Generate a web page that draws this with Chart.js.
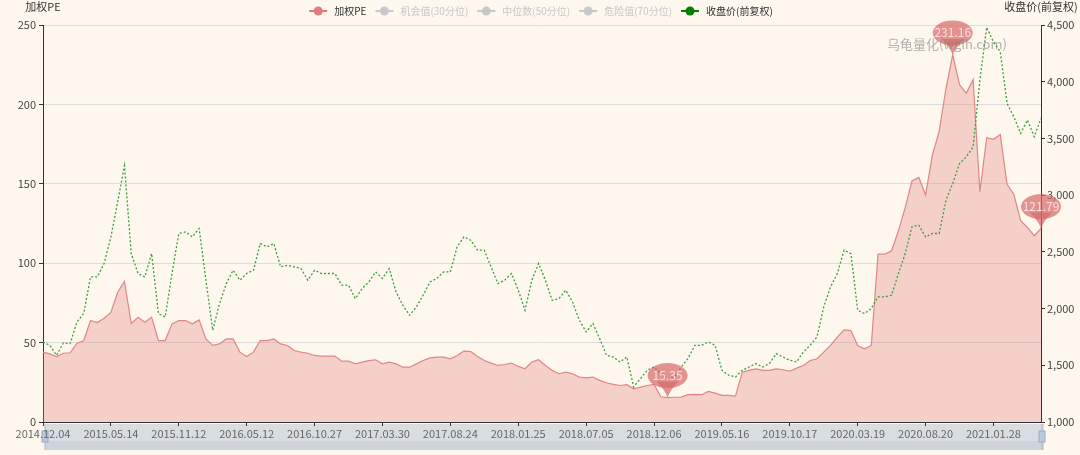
<!DOCTYPE html>
<html lang="zh-CN">
<head>
    <meta charset="UTF-8">
    <title>加权PE / 收盘价(前复权)</title>
    <script src="https://cdn.jsdelivr.net/npm/chart.js"></script>
    <style>
        body { margin: 0; background: #fdf7ed; }
        #wrap { width: 1080px; height: 455px; }
    </style>
</head>
<body>
    <div id="wrap"><canvas id="peChart" width="1080" height="455"></canvas></div>

    <script>
// one label every 10 points on the x axis
const POINTS_PER_TICK = 10;

const dateTicks = [
    '2014.12.04', '2015.05.14', '2015.11.12', '2016.05.12', '2016.10.27',
    '2017.03.30', '2017.08.24', '2018.01.25', '2018.07.05', '2018.12.06',
    '2019.05.16', '2019.10.17', '2020.03.19', '2020.08.20', '2021.01.28'
];

const peValues = [
    44.0, 42.9, 41.2, 43.3, 43.6, 49.6, 51.3, 63.9, 62.6, 65.3,
    69.0, 81.7, 88.5, 62.0, 66.0, 62.8, 66.0, 51.3, 51.3, 61.8,
    63.9, 63.9, 61.8, 64.3, 52.3, 48.2, 49.2, 52.3, 52.3, 44.0,
    41.2, 44.0, 51.3, 51.3, 52.3, 49.2, 48.2, 45.0, 44.0, 43.3,
    41.9, 41.5, 41.5, 41.5, 38.3, 38.3, 36.6, 37.7, 38.7, 39.2,
    36.6, 37.7, 36.6, 34.5, 34.5, 36.6, 38.7, 40.4, 40.8, 40.8,
    39.8, 41.9, 44.6, 44.4, 41.2, 38.7, 37.1, 35.6, 36.2, 37.1,
    35.0, 33.5, 37.7, 39.2, 35.6, 32.5, 30.4, 31.4, 30.4, 28.3,
    27.8, 28.3, 26.2, 24.7, 23.7, 23.0, 23.5, 20.9, 22.0, 23.0,
    23.7, 15.9, 15.35, 15.6, 15.7, 17.2, 17.4, 17.2, 19.3, 18.2,
    16.8, 16.8, 16.3, 31.4, 32.5, 33.5, 32.5, 32.5, 33.5, 32.9,
    32.0, 33.9, 35.6, 38.7, 39.8, 44.0, 48.2, 53.4, 58.0, 57.6,
    48.2, 46.1, 48.2, 105.7, 105.7, 107.8, 120.4, 135.0, 151.8, 154.0,
    143.0, 168.0, 183.0, 210.0, 231.16, 212.5, 207.0, 215.7, 145.0, 179.0,
    178.0, 181.0, 149.7, 143.4, 126.7, 122.5, 117.3, 121.79
];

const closeValues = [
    1706, 1676, 1588, 1697, 1691, 1882, 1956, 2279, 2279, 2397,
    2632, 2940, 3260, 2485, 2309, 2279, 2485, 1956, 1926, 2309,
    2662, 2676, 2632, 2706, 2250, 1809, 2044, 2220, 2338, 2250,
    2309, 2338, 2573, 2544, 2573, 2368, 2382, 2368, 2353, 2250,
    2338, 2309, 2309, 2309, 2206, 2206, 2088, 2176, 2235, 2323,
    2265, 2353, 2147, 2029, 1941, 2015, 2118, 2235, 2265, 2323,
    2323, 2544, 2632, 2603, 2515, 2515, 2368, 2220, 2250, 2309,
    2162, 1985, 2250, 2397, 2250, 2073, 2088, 2162, 2059, 1897,
    1794, 1868, 1735, 1588, 1573, 1529, 1573, 1309, 1382, 1456,
    1485, 1426, 1382, 1397, 1485, 1559, 1676, 1676, 1706, 1676,
    1456, 1412, 1397, 1456, 1485, 1515, 1485, 1515, 1603, 1573,
    1544, 1529, 1618, 1676, 1750, 2015, 2191, 2309, 2515, 2485,
    1985, 1956, 2000, 2103, 2103, 2118, 2309, 2485, 2721, 2735,
    2632, 2662, 2662, 2956, 3103, 3279, 3338, 3426, 4015, 4480,
    4350, 4264, 3809, 3691, 3544, 3662, 3515, 3676
];

const legendNames = ['加权PE', '机会值(30分位)', '中位数(50分位)', '危险值(70分位)', '收盘价(前复权)'];

const FONT = '"Noto Sans CJK SC", "Noto Sans", sans-serif';
Chart.defaults.font.family = FONT;
Chart.defaults.font.size = 11;

// max / min / latest PE get a pin
function markPoints() {
    let maxI = 0, minI = 0;
    peValues.forEach((v, i) => {
        if (v > peValues[maxI]) maxI = i;
        if (v < peValues[minI]) minI = i;
    });
    return [maxI, minI, peValues.length - 1];
}

const backdrop = {
    id: 'backdrop',
    beforeDraw(chart) {
        const ctx = chart.ctx;
        const area = chart.chartArea;
        ctx.save();
        ctx.fillStyle = '#fdf7ed';
        ctx.fillRect(0, 0, chart.width, chart.height);
        // data zoom slider under the dates
        ctx.fillStyle = '#d9dde2';
        ctx.fillRect(area.left + 2, 424, area.right - area.left + 1, 26);
        ctx.fillStyle = '#cfd4da';
        ctx.fillRect(area.left + 2, 441, area.right - area.left + 1, 9);
        [area.left + 2, area.right + 1].forEach(x => {
            ctx.fillStyle = '#a9b8cc';
            ctx.fillRect(x - 0.5, 424, 1, 26);
            ctx.fillStyle = '#bccae0';
            ctx.strokeStyle = '#9aaac2';
            ctx.fillRect(x - 3, 431, 6, 11);
            ctx.strokeRect(x - 3, 431, 6, 11);
        });
        ctx.restore();
    }
};

const decorations = {
    id: 'decorations',
    afterDraw(chart) {
        const ctx = chart.ctx;
        const area = chart.chartArea;
        const xs = chart.scales.x;
        const ys = chart.scales.y;
        ctx.save();

        // axis names
        ctx.font = '11px ' + FONT;
        ctx.fillStyle = '#333';
        ctx.textAlign = 'center';
        ctx.textBaseline = 'middle';
        ctx.fillText('加权PE', area.left, 7);
        ctx.fillText('收盘价(前复权)', area.right, 7);

        // legend
        ctx.font = '10px ' + FONT;
        const colors = ['#e07c7c', '#c8c8c8', '#c8c8c8', '#c8c8c8', '#008000'];
        const textColors = ['#333', '#c8c8c8', '#c8c8c8', '#c8c8c8', '#333'];
        const widths = legendNames.map(n => 18 + 7 + ctx.measureText(n).width);
        const total = widths.reduce((a, b) => a + b, 0) + 9 * (legendNames.length - 1);
        let lx = 541 - total / 2;
        legendNames.forEach((name, k) => {
            ctx.strokeStyle = colors[k];
            ctx.lineWidth = 2;
            ctx.beginPath();
            ctx.moveTo(lx, 11);
            ctx.lineTo(lx + 18, 11);
            ctx.stroke();
            ctx.fillStyle = colors[k];
            ctx.beginPath();
            ctx.arc(lx + 9, 11, 4.5, 0, Math.PI * 2);
            ctx.fill();
            ctx.fillStyle = textColors[k];
            ctx.textAlign = 'left';
            ctx.fillText(name, lx + 25, 11);
            lx += widths[k] + 9;
        });

        // pins
        ctx.textAlign = 'center';
        markPoints().forEach(i => {
            const px = xs.getPixelForValue(i);
            const py = ys.getPixelForValue(peValues[i]);
            ctx.fillStyle = 'rgba(214,104,104,0.7)';
            ctx.beginPath();
            ctx.ellipse(px, py - 22, 20, 12.5, 0, 0, Math.PI * 2);
            ctx.fill();
            ctx.beginPath();
            ctx.moveTo(px - 11, py - 16);
            ctx.quadraticCurveTo(px - 3, py - 8, px, py);
            ctx.quadraticCurveTo(px + 3, py - 8, px + 11, py - 16);
            ctx.closePath();
            ctx.fill();
            ctx.font = '12px ' + FONT;
            ctx.fillStyle = 'rgba(255,230,230,0.9)';
            ctx.fillText(peValues[i].toFixed(2), px, py - 22);
        });

        // watermark
        ctx.font = '13px ' + FONT;
        ctx.fillStyle = 'rgba(130,130,130,0.6)';
        ctx.fillText('乌龟量化(wglh.com)', 947, 44);
        ctx.restore();
    }
};

new Chart(
    document.getElementById('peChart'),
    {
        type: 'line',
        data: {
            datasets: [
                {
                    label: '收盘价(前复权)',
                    data: closeValues.map((v, i) => ({ x: i, y: v })),
                    yAxisID: 'y1',
                    borderColor: '#3c9e3c',
                    borderWidth: 1.3,
                    borderDash: [2, 2],
                    pointRadius: 0,
                    fill: false,
                    tension: 0,
                    order: 0
                },
                {
                    label: '加权PE',
                    data: peValues.map((v, i) => ({ x: i, y: v })),
                    yAxisID: 'y',
                    borderColor: '#e08686',
                    borderWidth: 1.2,
                    backgroundColor: 'rgba(224,120,116,0.3)',
                    pointRadius: 0,
                    fill: 'origin',
                    tension: 0,
                    order: 1
                }
            ]
        },
        options: {
            responsive: false,
            animation: false,
            layout: { padding: { top: 25, left: 0, right: 0, bottom: 0 } },
            plugins: {
                legend: { display: false },
                tooltip: { enabled: false }
            },
            scales: {
                x: {
                    type: 'linear',
                    min: 0,
                    max: peValues.length - 1,
                    afterFit(scale) { scale.height = 33; },
                    afterBuildTicks(scale) {
                        scale.ticks = dateTicks.map((d, k) => ({ value: k * POINTS_PER_TICK }));
                    },
                    ticks: {
                        autoSkip: false,
                        maxRotation: 0,
                        padding: 1,
                        color: '#666',
                        callback: value => dateTicks[Math.round(value / POINTS_PER_TICK)]
                    },
                    grid: {
                        drawOnChartArea: false,
                        tickLength: 4,
                        tickColor: '#333'
                    },
                    border: { color: '#333' }
                },
                y: {
                    position: 'left',
                    min: 0,
                    max: 250,
                    afterFit(scale) { scale.width = 43; },
                    ticks: { stepSize: 50, padding: 3, color: '#444' },
                    grid: { color: '#dcdcdc', tickLength: 4, tickColor: '#333' },
                    border: { color: '#333' }
                },
                y1: {
                    position: 'right',
                    min: 1000,
                    max: 4500,
                    afterFit(scale) { scale.width = 39; },
                    ticks: {
                        stepSize: 500,
                        padding: 2,
                        color: '#444',
                        callback: value => value.toLocaleString('en-US')
                    },
                    grid: { drawOnChartArea: false, tickLength: 4, tickColor: '#333' },
                    border: { color: '#333' }
                }
            }
        },
        plugins: [backdrop, decorations]
    }
);
</script>
</body>
</html>
